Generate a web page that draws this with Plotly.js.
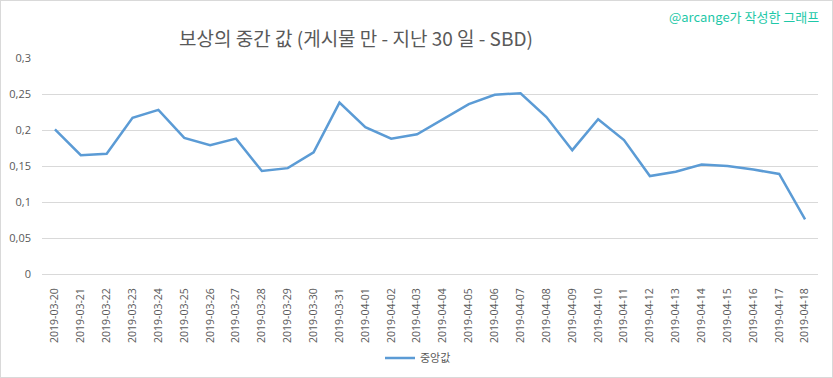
<!DOCTYPE html>
<html>
<head>
<meta charset="utf-8">
<script src="https://cdn.plot.ly/plotly-3.0.1.min.js"></script>
<style>
html,body{margin:0;padding:0;background:#fff;}
#chart{width:831px;height:376px;border:1px solid #d9d9d9;}
</style>
</head>
<body>
<div id="chart"></div>
<script>
const dates = ["2019-03-20","2019-03-21","2019-03-22","2019-03-23","2019-03-24","2019-03-25","2019-03-26","2019-03-27","2019-03-28","2019-03-29","2019-03-30","2019-03-31","2019-04-01","2019-04-02","2019-04-03","2019-04-04","2019-04-05","2019-04-06","2019-04-07","2019-04-08","2019-04-09","2019-04-10","2019-04-11","2019-04-12","2019-04-13","2019-04-14","2019-04-15","2019-04-16","2019-04-17","2019-04-18"];
const medianValues = [0.201,0.165,0.167,0.217,0.228,0.189,0.179,0.188,0.143,0.147,0.169,0.238,0.204,0.188,0.194,0.215,0.236,0.249,0.251,0.218,0.172,0.215,0.186,0.136,0.142,0.152,0.150,0.145,0.139,0.076];
const yTickVals = [0,0.05,0.1,0.15,0.2,0.25,0.3];
const yTickText = ["0","0,05","0,1","0,15","0,2","0,25","0,3"];
const titleText = "보상의 중간 값 (게시물 만 - 지난 30 일 - SBD)";
const seriesName = "중앙값";
const watermark = "@arcange가 작성한 그래프";

const gray = "#595959";
const trace = {
  x: dates, y: medianValues, type: "scatter", mode: "lines", name: seriesName,
  line: {color: "#5b9bd5", width: 2.5}
};
const layout = {
  width: 831, height: 376,
  margin: {l: 41, r: 14, t: 57, b: 103, autoexpand: false},
  paper_bgcolor: "#fff", plot_bgcolor: "#fff",
  font: {family: "'Noto Sans CJK KR', 'Open Sans', sans-serif", color: gray},
  separators: ", ",
  title: {text: titleText, x: 355/831, xanchor: "center", y: 1 - 38/376, yanchor: "middle",
          font: {size: 19, color: gray, family: "'Noto Sans CJK KR', sans-serif"}},
  xaxis: {type: "category", range: [-0.5, dates.length - 0.5], tickangle: -90, showgrid: false, showline: true, linecolor: "#d9d9d9", linewidth: 1,
          ticks: "", ticklabelstandoff: 9, automargin: false, tickfont: {size: 10.5, color: gray, family: "'Open Sans', sans-serif"}, zeroline: false},
  yaxis: {range: [0, 0.3], tickvals: yTickVals, ticktext: yTickText, showgrid: true, gridcolor: "#d9d9d9", gridwidth: 1,
          zeroline: false, showline: false, ticks: "", ticklabelstandoff: 10, automargin: false,
          tickfont: {size: 11, color: gray, family: "'Open Sans', sans-serif"}},
  showlegend: true,
  legend: {orientation: "h", xref: "paper", x: (418-42)/776, xanchor: "center", yref: "container", y: (376-357)/376, yanchor: "middle",
           font: {size: 11, color: gray, family: "'Noto Sans CJK KR', sans-serif"}, itemwidth: 30},
  annotations: [{text: watermark, xref: "paper", yref: "paper", x: (820-41)/776, xanchor: "right",
                 y: (273-15)/216, yanchor: "middle", showarrow: false,
                 font: {size: 13, color: "#1ec8a8", family: "'Noto Sans CJK KR', sans-serif"}}]
};
Plotly.newPlot("chart", [trace], layout, {displayModeBar: false, staticPlot: true});
</script>
</body>
</html>
